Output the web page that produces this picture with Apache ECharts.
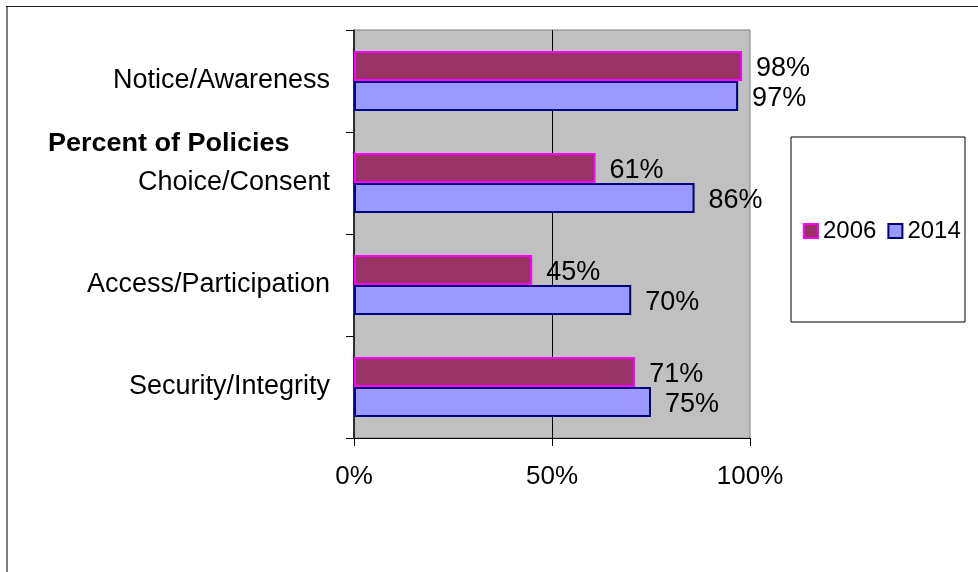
<!DOCTYPE html>
<html>
<head>
<meta charset="utf-8">
<script src="https://cdn.jsdelivr.net/npm/echarts@6/dist/echarts.min.js"></script>
<style>
html,body{margin:0;padding:0;background:#fff;}
#chart{width:978px;height:572px;}
</style>
</head>
<body>
<div id="chart"></div>
<script>
var categories = ['Notice/Awareness', 'Choice/Consent', 'Access/Participation', 'Security/Integrity'];
var seriesNames = ['2006', '2014'];
var values2006 = [98, 61, 45, 71];
var values2014 = [97, 86, 70, 75];
var xTicks = [0, 50, 100];

var FONT = '"Liberation Sans", Arial, sans-serif';
var chart = echarts.init(document.getElementById('chart'));

var labelCfg = {
  show: true, position: 'right', distance: 14, offset: [0, 2.5],
  formatter: '{c}%', color: '#000', fontSize: 27, fontFamily: FONT
};

chart.setOption({
  animation: false,
  backgroundColor: '#fff',
  grid: {
    left: 354, top: 30, right: 228, bottom: 134,
    show: true, backgroundColor: '#C0C0C0', borderColor: '#808080', borderWidth: 1
  },
  legend: {
    left: 803, top: 219, padding: 0, itemGap: 11, itemWidth: 14, itemHeight: 14,
    icon: 'rect',
    data: seriesNames,
    textStyle: { fontSize: 24, fontFamily: FONT, color: '#000' },
    z: 10
  },
  xAxis: {
    type: 'value', min: xTicks[0], max: xTicks[xTicks.length - 1], interval: 50,
    axisLine: { show: true, lineStyle: { color: '#000', width: 1 } },
    axisTick: { show: true, length: 8, lineStyle: { color: '#000' } },
    axisLabel: { formatter: '{value}%', fontSize: 26, fontFamily: FONT, color: '#000', margin: 26 },
    splitLine: { show: true, showMinLine: false, showMaxLine: false, lineStyle: { color: '#000', width: 1 } }
  },
  yAxis: {
    type: 'category', data: categories, inverse: true,
    axisLine: { show: true, lineStyle: { color: '#000', width: 1.5 } },
    axisTick: { show: true, length: 8, lineStyle: { color: '#000' } },
    axisLabel: { fontSize: 27, fontFamily: FONT, color: '#000', margin: 24, padding: [3, 0, 0, 0] }
  },
  series: [
    {
      name: seriesNames[0], type: 'bar', data: values2006,
      barGap: '0%', barCategoryGap: '41%',
      itemStyle: { color: '#993366', borderColor: '#FF00FF', borderWidth: 2 },
      label: labelCfg
    },
    {
      name: seriesNames[1], type: 'bar', data: values2014,
      barGap: '0%', barCategoryGap: '41%',
      itemStyle: { color: '#9999FF', borderColor: '#000080', borderWidth: 2 },
      label: labelCfg
    }
  ],
  graphic: [
    { type: 'line', shape: { x1: 6, y1: 6.5, x2: 978, y2: 6.5 }, style: { stroke: '#222', lineWidth: 1 }, z: 1 },
    { type: 'line', shape: { x1: 7, y1: 6, x2: 7, y2: 572 }, style: { stroke: '#000', lineWidth: 1 }, z: 1 },
    { type: 'rect', shape: { x: 791, y: 137, width: 174, height: 185 }, style: { fill: '#fff', stroke: '#000', lineWidth: 1 }, z: 1 },
    { type: 'text', x: 48, y: 144, scaleX: 1.08, originX: 0, originY: 0,
      style: { text: 'Percent of Policies', font: 'bold 25px ' + FONT, fill: '#000', verticalAlign: 'middle' }, z: 5 }
  ]
});
</script>
</body>
</html>
